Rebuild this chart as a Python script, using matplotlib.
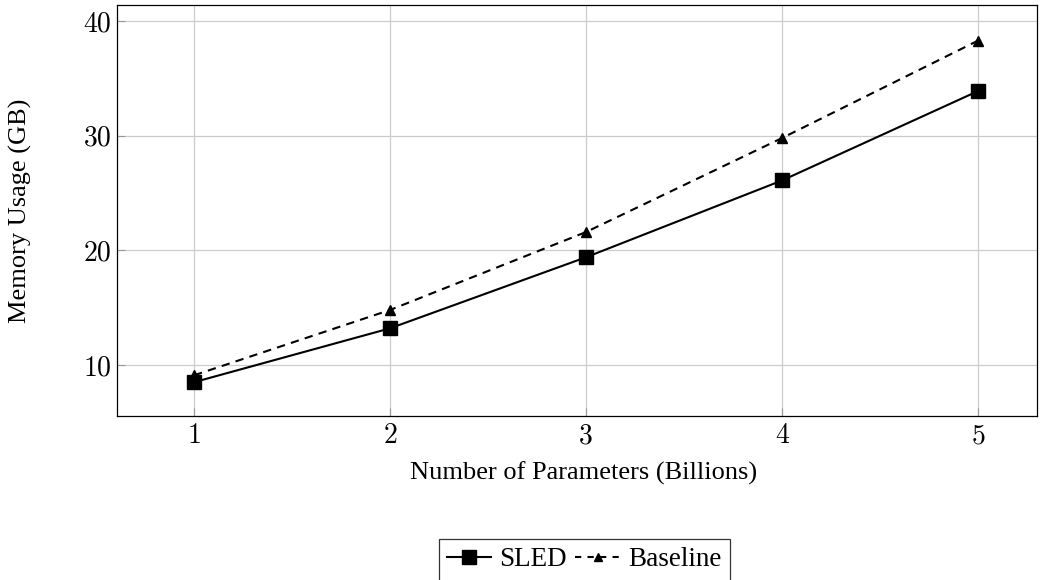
import matplotlib.pyplot as plt
from matplotlib.lines import Line2D

# data
params = [1, 2, 3, 4, 5]
sled = [8.5, 13.2, 19.4, 26.1, 33.9]
baseline = [9.1, 14.8, 21.6, 29.8, 38.3]

plt.rcParams['font.family'] = ['Liberation Serif', 'DejaVu Serif']
plt.rcParams['axes.formatter.use_mathtext'] = True

fig = plt.figure(figsize=(10.42, 5.80), dpi=100)
ax = fig.add_axes([117/1042, 1 - 416/580, 920/1042, 411/580])

ax.plot(params, sled, color='black', lw=1.5, marker='s', markersize=9.5, label='SLED')
ax.plot(params, baseline, color='black', lw=1.5, ls=(0, (4, 3)), marker='^', markersize=6.5, label='Baseline')

ax.set_xlim(0.607, 5.30)
ax.set_ylim(5.55, 41.4)
ax.set_xticks(params)
ax.set_yticks([10, 20, 30, 40])
ax.set_xticklabels([str(p) for p in params], fontfamily='cmr10', fontsize=20)
ax.set_yticklabels(['10', '20', '30', '40'], fontfamily='cmr10', fontsize=20)
ax.grid(True, color='#cccccc', lw=0.9)
ax.set_axisbelow(True)
ax.tick_params(axis='x', direction='in', length=6, color='#999999', pad=5)
ax.tick_params(axis='y', direction='in', length=6, color='#999999', pad=4)
for s in ax.spines.values():
    s.set_linewidth(0.9)

ax.set_xlabel('Number of Parameters (Billions)', fontsize=19)
ax.xaxis.set_label_coords((584 - 117) / 920, -0.11)
ax.set_ylabel('Memory Usage (GB)', fontsize=19)
ax.yaxis.set_label_coords(-0.092, 0.5)

handles = [Line2D([], [], color='black', lw=1.5, marker='s', markersize=9.5),
           Line2D([], [], color='black', lw=1.5, ls=(0, (3, 3)), marker='^', markersize=6)]
leg = fig.legend(handles, ['SLED', 'Baseline'], loc='center', bbox_to_anchor=(584/1042, 1 - 560/580),
                 ncol=2, fontsize=19.5, frameon=True, fancybox=False, edgecolor='black',
                 handlelength=1.65, handletextpad=0.3, columnspacing=0.3, borderpad=0.3,
                 borderaxespad=0)
leg.get_frame().set_linewidth(0.9)

fig.savefig('out.png', dpi=100)
